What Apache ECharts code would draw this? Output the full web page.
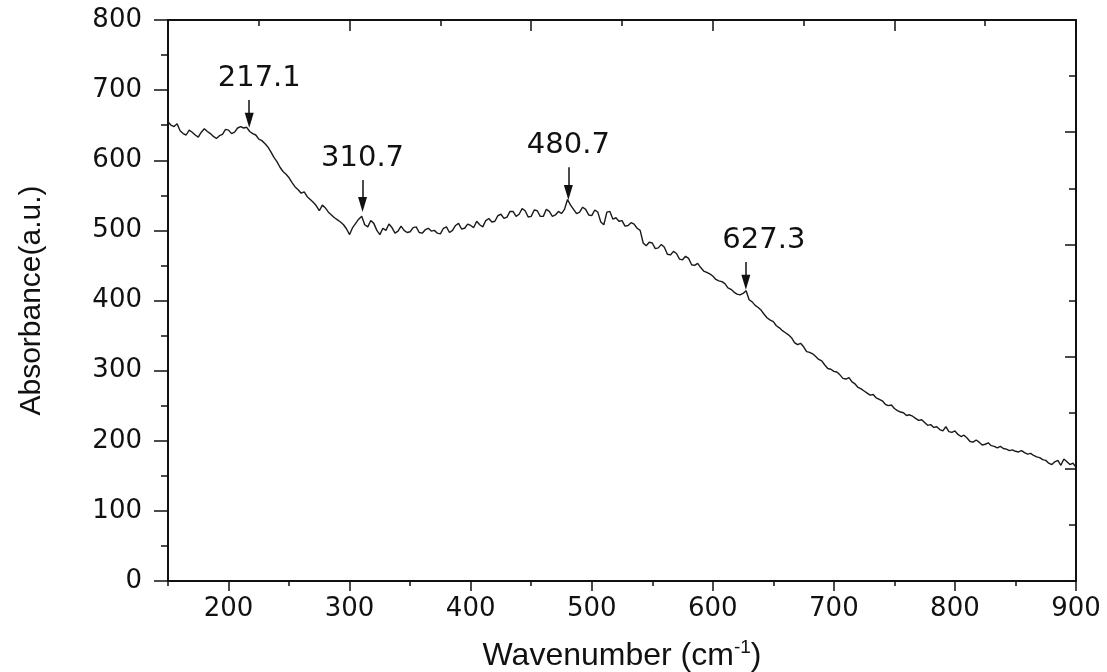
<!DOCTYPE html>
<html>
<head>
<meta charset="utf-8">
<script src="https://cdn.jsdelivr.net/npm/echarts@6/dist/echarts.min.js"></script>
<style>
html,body{margin:0;padding:0;background:#fff;}
#chart{width:1107px;height:672px;}
</style>
</head>
<body>
<div id="chart"></div>
<script>
// ---- data ----
const wnStart = 150, wnStep = 2.5;
const absorbance = [
655,650,648,652,642,638,636,643,640,636,
633,640,645,641,638,634,631,635,637,644,
643,638,640,646,648,646,647,641,638,636,
630,628,624,619,612,604,598,590,584,580,
575,568,562,558,553,555,548,544,540,535,
528,536,532,526,522,518,515,512,508,502,
494,504,510,516,520,508,505,514,510,500,
494,503,500,509,504,496,499,506,500,497,
498,504,505,497,496,501,503,499,500,496,
495,503,505,497,500,507,510,502,503,509,
507,504,513,508,505,514,517,512,513,521,
523,517,519,527,527,520,523,531,528,519,
520,529,528,520,520,530,527,520,522,527,
524,530,544,536,530,524,526,533,530,522,
521,529,526,512,508,526,527,516,518,513,
514,506,507,511,509,503,500,482,478,483,
482,474,475,480,476,466,465,470,467,459,
458,463,460,451,450,453,447,442,440,438,
435,430,428,427,424,418,416,412,409,408,
410,414,401,398,393,390,386,380,375,372,
370,364,361,357,354,351,347,340,337,339,
334,327,326,324,320,316,314,308,303,302,
299,298,294,289,288,290,284,281,276,274,
271,268,265,266,261,259,257,252,250,251,
246,243,241,240,236,237,235,232,229,230,
226,222,223,219,220,216,214,220,213,212,
214,209,206,208,204,199,198,201,198,194,
195,197,193,192,190,192,189,188,186,187,
185,184,186,183,181,182,179,177,176,173,
172,168,166,170,172,165,174,170,166,168,
162
];
const wavenumber = absorbance.map((_, i) => wnStart + wnStep * i);

const xMajorTicks = [200, 300, 400, 500, 600, 700, 800, 900];
const xMinorTicks = [150, 250, 350, 450, 550, 650, 750, 850];

const annLabels = ['217.1', '310.7', '480.7', '627.3'];
const annX      = [217.1, 310.7, 480.7, 627.3];
const annTop    = [686, 572, 590, 455];
const annEnd    = [657, 537, 554, 426];

// label horizontal shifts (layout only)
const annLabelDx = [10, 0, 0, 18];

const seriesData = wavenumber.map((x, i) => [x, absorbance[i]]);

const markLines = annX.map((x, i) => [
  {
    coord: [x, annTop[i]],
    symbol: 'none',
    label: {
      show: true,
      position: 'start',
      formatter: annLabels[i],
      distance: 7,
      offset: [annLabelDx[i], 0],
      fontFamily: 'DejaVu Sans',
      fontSize: 29,
      color: '#111'
    }
  },
  { coord: [x, annEnd[i]], symbol: 'triangle', symbolSize: [9, 15] }
]);

const axisLineStyle = { color: '#111', width: 2 };
const tickStyle = { color: '#111', width: 1.5 };
const tickFont = { fontFamily: 'DejaVu Sans', fontSize: 26, color: '#111' };

const chart = echarts.init(document.getElementById('chart'), null, { renderer: 'canvas' });
chart.setOption({
  animation: false,
  backgroundColor: '#fff',
  grid: { left: 168, right: 31, top: 20, bottom: 91, containLabel: false, outerBoundsMode: 'none' },
  xAxis: [
    {
      type: 'value', position: 'bottom', min: 150, max: 900,
      axisLine: { show: true, onZero: false, lineStyle: axisLineStyle },
      axisTick: { show: true, inside: false, length: 10, lineStyle: tickStyle, customValues: xMajorTicks },
      axisLabel: Object.assign({ show: true, margin: 15, customValues: xMajorTicks }, tickFont),
      splitLine: { show: false },
      name: '{a|Wavenumber (cm}{s|-1}{a|)}',
      nameLocation: 'middle',
      nameGap: 57,
      nameTextStyle: {
        rich: {
          a: { fontFamily: 'Liberation Sans', fontSize: 32, color: '#111', lineHeight: 36 },
          s: { fontFamily: 'Liberation Sans', fontSize: 19, color: '#111', lineHeight: 36, verticalAlign: 'top', padding: [0, 0, 14, 0] }
        }
      }
    },
    {
      type: 'value', position: 'bottom', min: 150, max: 900,
      axisLine: { show: false, onZero: false },
      axisTick: { show: true, inside: false, length: 5, lineStyle: tickStyle, customValues: xMinorTicks },
      axisLabel: { show: false },
      splitLine: { show: false }
    },
    {
      type: 'value', position: 'top', min: 150, max: 900, interval: 150,
      axisLine: { show: true, onZero: false, lineStyle: axisLineStyle },
      axisTick: { show: true, inside: true, length: 11, lineStyle: tickStyle },
      minorTick: { show: true, splitNumber: 2, length: 6, lineStyle: tickStyle },
      axisLabel: { show: false },
      splitLine: { show: false }
    }
  ],
  yAxis: [
    {
      type: 'value', position: 'left', min: 0, max: 800, interval: 100,
      axisLine: { show: true, onZero: false, lineStyle: axisLineStyle },
      axisTick: { show: true, inside: false, length: 14, lineStyle: tickStyle },
      minorTick: { show: true, splitNumber: 2, length: 7, lineStyle: tickStyle },
      axisLabel: Object.assign({ show: true, margin: 26 }, tickFont),
      splitLine: { show: false },
      name: 'Absorbance(a.u.)',
      nameLocation: 'middle',
      nameRotate: 90,
      nameGap: 121,
      nameTextStyle: { fontFamily: 'Liberation Sans', fontSize: 30, color: '#111' }
    },
    {
      type: 'value', position: 'right', min: 0, max: 800, interval: 160,
      axisLine: { show: true, onZero: false, lineStyle: axisLineStyle },
      axisTick: { show: true, inside: true, length: 11, lineStyle: tickStyle },
      minorTick: { show: true, splitNumber: 2, length: 7, lineStyle: tickStyle },
      axisLabel: { show: false },
      splitLine: { show: false }
    }
  ],
  series: [
    {
      type: 'line',
      xAxisIndex: 0,
      yAxisIndex: 0,
      data: seriesData,
      showSymbol: false,
      symbol: 'none',
      lineStyle: { color: '#1a1a1a', width: 1.4 },
      silent: true,
      markLine: {
        silent: true,
        animation: false,
        lineStyle: { color: '#111', width: 1.5, type: 'solid' },
        itemStyle: { color: '#111' },
        data: markLines
      }
    }
  ]
});
</script>
</body>
</html>
